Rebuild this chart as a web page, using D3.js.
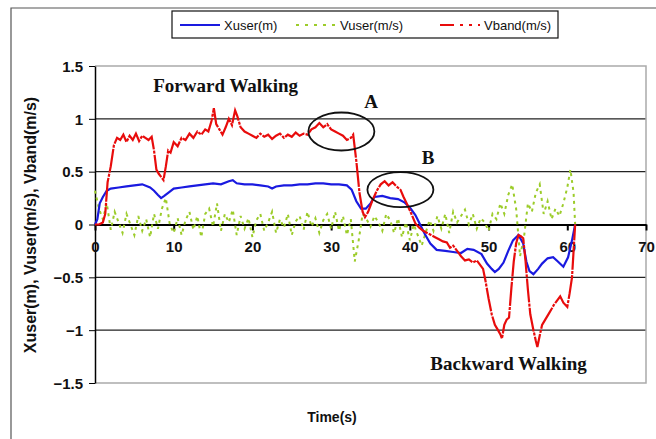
<!DOCTYPE html>
<html>
<head>
<meta charset="utf-8">
<script src="https://cdn.jsdelivr.net/npm/d3@7"></script>
<style>
  body { margin: 0; background: #fff; }
  svg { display: block; }
</style>
</head>
<body>
<div id="chart"></div>
<script>
// chart size
const width = 656;
const height = 439;
const margin = {left: 95, right: 10, top: 66, bottom: 56};

// axis ticks
const xTicks = [0, 10, 20, 30, 40, 50, 60, 70];
const yTicks = [-1.5, -1, -0.5, 0, 0.5, 1, 1.5];

// Xuser (m)
const xuserT = [0, 0.3, 0.6, 1, 1.5, 2, 3, 4, 5, 6, 7, 7.5, 8, 8.4, 8.8, 9.3, 10, 11, 12, 13, 14, 15, 16, 17, 17.5, 18, 19, 20,
  21, 22, 22.5, 23, 24, 25, 26, 27, 28, 29, 30, 31, 32, 32.6, 33.2, 33.8, 34.4, 35, 35.5, 36.5, 37.5, 38.5, 39.3, 40, 40.7,
  41.3, 41.9, 42.6, 43.4, 44.5, 45.5, 46.5, 47.3, 48.1, 49.1, 49.8, 50.4, 50.8, 51.3, 51.9, 52.5, 53.1, 53.8, 54.4, 54.8,
  55.2, 55.7, 56.3, 56.8, 57.5, 58.2, 58.8, 59.5, 60.1, 60.6, 61];
const xuserV = [0, 0.05, 0.2, 0.26, 0.32, 0.34, 0.35, 0.36, 0.37, 0.38, 0.35, 0.32, 0.28, 0.25, 0.27, 0.3, 0.34, 0.35, 0.36, 0.37, 0.38, 0.39, 0.38, 0.41, 0.42, 0.39, 0.38, 0.38,
  0.37, 0.36, 0.34, 0.36, 0.37, 0.37, 0.38, 0.38, 0.39, 0.39, 0.38, 0.38, 0.37, 0.33, 0.22, 0.15, 0.15, 0.2, 0.26, 0.27, 0.25, 0.24, 0.21, 0.16, 0.09,
  0.0, -0.09, -0.18, -0.24, -0.25, -0.26, -0.27, -0.23, -0.24, -0.28, -0.37, -0.42, -0.45, -0.42, -0.36, -0.25, -0.15, -0.1, -0.18, -0.35,
  -0.44, -0.47, -0.42, -0.37, -0.32, -0.31, -0.35, -0.4, -0.31, -0.15, 0];

// Vuser (m/s)
const vuserT = [0, 0.5, 1, 1.5, 2, 2.5, 3, 3.5, 4, 4.5, 5, 5.5, 6, 6.5, 7, 7.5, 8, 8.5, 9, 9.5, 10, 10.5, 11, 11.5, 12, 12.5,
  13, 13.5, 14, 14.5, 15, 15.5, 16, 16.5, 17, 17.5, 18, 18.5, 19, 19.5, 20, 20.5, 21, 21.5, 22, 22.5, 23, 23.5, 24, 24.5,
  25, 25.5, 26, 26.5, 27, 27.5, 28, 28.5, 29, 29.5, 30, 30.5, 31, 31.5, 32, 32.5, 33, 33.5, 34, 34.5, 35, 35.5, 36, 36.5,
  37, 37.5, 38, 38.5, 39, 39.5, 40, 40.5, 41, 41.5, 42, 42.5, 43, 43.5, 44, 44.5, 45, 45.5, 46, 46.5, 47, 47.5, 48, 48.5,
  49, 49.5, 50, 50.5, 51, 51.5, 52, 52.5, 53, 53.5, 54, 54.5, 55, 55.5, 56, 56.5, 57, 57.5, 58, 58.5, 59, 59.5, 60, 60.4,
  60.8, 61];
const vuserV = [0.32, 0.15, 0.05, 0.2, -0.05, 0.12, 0.02, -0.08, 0.1, 0.0, -0.1, 0.08, -0.06, 0.05, -0.12, 0.1, -0.04, 0.15, 0.25, 0.0, -0.08, 0.06, -0.1, 0.04, 0.12, -0.05,
  0.08, -0.12, 0.1, 0.15, -0.02, 0.2, -0.06, 0.1, 0.02, 0.14, -0.1, 0.08, -0.04, 0.06, -0.12, 0.04, 0.1, -0.06, 0.02, 0.12, -0.08, 0.05, -0.03, 0.1,
  -0.1, 0.03, 0.08, -0.05, 0.12, -0.02, 0.06, -0.08, 0.04, 0.1, -0.04, 0.12, -0.06, 0.08, -0.1, 0.05, -0.35, -0.15, 0.1, 0.05, -0.02, 0.08, 0.02, -0.06,
  0.1, 0.04, -0.08, 0.06, -0.12, 0.02, -0.15, 0.0, -0.1, -0.2, -0.08, 0.04, -0.06, 0.08, -0.04, 0.1, -0.08, 0.12, 0.02, 0.08, 0.14, 0.0, 0.1, -0.04,
  0.06, 0.02, -0.06, 0.1, 0.05, 0.2, 0.1, 0.28, 0.38, 0.15, -0.3, -0.12, 0.2, 0.12, 0.3, 0.38, 0.1, 0.22, 0.05, 0.15, 0.08, 0.2, 0.35, 0.52,
  0.3, 0.0];

// Vband (m/s)
const vbandT = [0, 0.5, 1, 1.3, 1.6, 2.0, 2.4, 2.8, 3.2, 3.6, 4.0, 4.4, 4.8, 5.2, 5.6, 6.0, 6.4, 6.8, 7.2, 7.5, 7.8, 8.1, 8.4, 8.7,
  9.0, 9.3, 9.6, 10, 10.5, 11, 11.5, 12, 12.5, 13, 13.5, 14, 14.4, 14.8, 15.1, 15.4, 15.8, 16.2, 16.6, 17.0, 17.4, 17.8,
  18.1, 18.5, 19, 19.5, 20, 20.5, 21, 21.5, 22, 22.5, 23, 23.5, 24, 24.5, 25, 25.5, 26, 26.5, 27, 27.5, 28, 28.5, 29, 29.5,
  30, 30.5, 31, 31.5, 32, 32.5, 32.8, 33.2, 33.6, 34, 34.3, 34.7, 35.2, 35.8, 36.3, 36.8, 37.3, 37.8, 38.3, 38.8, 39.2,
  39.6, 40.2, 40.7, 41.2, 41.7, 42.2, 42.7, 43.2, 43.7, 44.2, 44.7, 45.1, 45.5, 46, 46.5, 47, 47.5, 48, 48.5, 48.9, 49.3,
  49.6, 50, 50.4, 50.8, 51.2, 51.5, 51.7, 52, 52.3, 52.6, 52.9, 53.2, 53.5, 53.8, 54.1, 54.4, 54.7, 55.0, 55.3, 55.7, 56.0,
  56.2, 56.5, 56.8, 57.2, 57.6, 58.0, 58.3, 58.7, 59.1, 59.5, 60, 60.3, 60.6, 60.8, 61];
const vbandV = [0, 0, 0.02, 0.1, 0.4, 0.55, 0.75, 0.82, 0.8, 0.85, 0.78, 0.84, 0.8, 0.86, 0.79, 0.84, 0.82, 0.8, 0.83, 0.7, 0.52, 0.48, 0.45, 0.42,
  0.55, 0.7, 0.68, 0.78, 0.74, 0.82, 0.8, 0.86, 0.82, 0.88, 0.85, 0.9, 0.88, 0.98, 1.1, 0.95, 0.9, 0.85, 0.92, 1.0, 0.94, 1.08,
  1.02, 0.92, 0.88, 0.86, 0.84, 0.82, 0.86, 0.83, 0.85, 0.81, 0.84, 0.86, 0.82, 0.85, 0.83, 0.87, 0.84, 0.86, 0.85, 0.9, 0.92, 0.96, 0.92, 0.95,
  0.9, 0.88, 0.86, 0.84, 0.8, 0.82, 0.85, 0.6, 0.3, 0.12, 0.07, 0.12, 0.22, 0.32, 0.38, 0.41, 0.37, 0.4, 0.36, 0.33, 0.26,
  0.2, 0.1, 0.01, -0.03, -0.06, -0.08, -0.1, -0.12, -0.14, -0.16, -0.17, -0.22, -0.2, -0.25, -0.3, -0.34, -0.33, -0.36, -0.34, -0.38, -0.42,
  -0.53, -0.7, -0.85, -0.95, -1.0, -1.04, -1.08, -0.95, -0.9, -0.88, -0.6, -0.35, -0.18, -0.1, -0.11, -0.13, -0.35, -0.62, -0.85, -1.0, -1.1,
  -1.16, -1.05, -0.95, -0.9, -0.85, -0.8, -0.76, -0.72, -0.68, -0.74, -0.78, -0.65, -0.5, -0.25, 0];

// annotations (data coords)
const notes = [
  {text: "Forward Walking", t: 7.4, v: 1.25},
  {text: "A", t: 34.2, v: 1.1},
  {text: "B", t: 41.5, v: 0.57},
  {text: "Backward Walking", t: 42.6, v: -1.38}
];
const ellipses = [
  {t: 31.3, v: 0.88, rx: 33, ry: 19},
  {t: 38.8, v: 0.33, rx: 33, ry: 17.5}
];

const svg = d3.select("#chart").append("svg")
  .attr("width", width)
  .attr("height", height);

// outer chart frame
svg.append("path")
  .attr("d", "M11,439 V8 H656")
  .attr("fill", "none")
  .attr("stroke", "#555")
  .attr("stroke-width", 1.2);

const x = d3.scaleLinear().domain([0, 70]).range([margin.left, width - margin.right]);
const y = d3.scaleLinear().domain([-1.5, 1.5]).range([height - margin.bottom, margin.top]);

// gridlines
svg.append("g")
  .selectAll("line")
  .data(yTicks.filter(d => d != 0 && Math.abs(d) != 1.5))
  .join("line")
  .attr("x1", x(0)).attr("x2", x(70))
  .attr("y1", d => y(d)).attr("y2", d => y(d))
  .attr("stroke", "#222")
  .attr("stroke-width", 1.1);

// plot border
svg.append("path")
  .attr("d", `M${x(0)},${y(1.5)} H${x(70)} V${y(-1.5)} H${x(0)}`)
  .attr("fill", "none")
  .attr("stroke", "#aaa")
  .attr("stroke-width", 1.5);

// y axis
svg.append("g")
  .attr("transform", `translate(${x(0)},0)`)
  .call(d3.axisLeft(y).tickValues(yTicks).tickSize(6).tickSizeOuter(0)
    .tickFormat(d => d3.format("")(d)))
  .call(g => g.select(".domain").attr("stroke", "#000").attr("stroke-width", 1.5))
  .call(g => g.selectAll(".tick line").attr("stroke", "#000"))
  .call(g => g.selectAll("text")
    .attr("font-family", "Liberation Sans, Arial, sans-serif")
    .attr("font-size", 15).attr("font-weight", "bold").attr("fill", "#111")
    .attr("x", -12).attr("dy", "0.35em"));

// x axis along zero
svg.append("g")
  .attr("transform", `translate(0,${y(0)})`)
  .call(d3.axisBottom(x).tickValues(xTicks).tickSize(6).tickSizeOuter(0))
  .call(g => g.select(".domain").attr("stroke", "#000").attr("stroke-width", 2.2))
  .call(g => g.selectAll(".tick line").attr("stroke", "#000").attr("stroke-width", 2))
  .call(g => g.selectAll("text")
    .attr("font-family", "Liberation Sans, Arial, sans-serif")
    .attr("font-size", 15).attr("font-weight", "bold").attr("fill", "#111")
    .attr("y", 22).attr("dy", "0.35em"));

// series
const line = d3.line().x(d => x(d[0])).y(d => y(d[1]));

svg.append("path")
  .datum(d3.zip(vuserT, vuserV))
  .attr("d", line)
  .attr("fill", "none")
  .attr("stroke", "#9ccc2a")
  .attr("stroke-width", 2)
  .attr("stroke-dasharray", "3,4");

svg.append("path")
  .datum(d3.zip(xuserT, xuserV))
  .attr("d", line)
  .attr("fill", "none")
  .attr("stroke", "#1a1ae0")
  .attr("stroke-width", 2.2);

svg.append("path")
  .datum(d3.zip(vbandT, vbandV))
  .attr("d", line)
  .attr("fill", "none")
  .attr("stroke", "#e80c0c")
  .attr("stroke-width", 2.2)
  .attr("stroke-dasharray", "24,1.2,3,1.2");

// ellipses
svg.append("g")
  .selectAll("ellipse")
  .data(ellipses)
  .join("ellipse")
  .attr("cx", d => x(d.t)).attr("cy", d => y(d.v))
  .attr("rx", d => d.rx).attr("ry", d => d.ry)
  .attr("fill", "none")
  .attr("stroke", "#111")
  .attr("stroke-width", 1.8);

// annotation text
svg.append("g")
  .selectAll("text")
  .data(notes)
  .join("text")
  .attr("x", d => x(d.t)).attr("y", d => y(d.v))
  .attr("font-family", "Liberation Serif, Times New Roman, serif")
  .attr("font-size", 19).attr("font-weight", "bold")
  .attr("fill", "#111")
  .text(d => d.text);

// axis titles
svg.append("text")
  .attr("transform", "translate(36,225) rotate(-90)")
  .attr("text-anchor", "middle")
  .attr("font-family", "Liberation Sans, Arial, sans-serif")
  .attr("font-size", 16).attr("font-weight", "bold").attr("fill", "#111")
  .text("Xuser(m), Vuser(m/s), Vband(m/s)");

svg.append("text")
  .attr("x", 332).attr("y", 422)
  .attr("text-anchor", "middle")
  .attr("font-family", "Liberation Sans, Arial, sans-serif")
  .attr("font-size", 14).attr("font-weight", "bold").attr("fill", "#111")
  .text("Time(s)");

// legend
const legendItems = [
  {name: "Xuser(m)", color: "#1a1ae0", dash: null, x0: 180},
  {name: "Vuser(m/s)", color: "#9ccc2a", dash: "3,6", x0: 296},
  {name: "Vband(m/s)", color: "#e80c0c", dash: "14,6,3,6,3,6", x0: 440}
];
svg.append("rect")
  .attr("x", 172).attr("y", 11).attr("width", 386).attr("height", 27)
  .attr("fill", "#fff").attr("stroke", "#111").attr("stroke-width", 1.2);

const leg = svg.append("g").selectAll("g").data(legendItems).join("g");
leg.append("line")
  .attr("x1", d => d.x0).attr("x2", d => d.x0 + 40)
  .attr("y1", 25).attr("y2", 25)
  .attr("stroke", d => d.color).attr("stroke-width", 2.2)
  .attr("stroke-dasharray", d => d.dash);
leg.append("text")
  .attr("x", d => d.x0 + 44).attr("y", 25).attr("dy", "0.35em")
  .attr("font-family", "Liberation Sans, Arial, sans-serif")
  .attr("font-size", 13).attr("fill", "#111")
  .text(d => d.name);
</script>
</body>
</html>
